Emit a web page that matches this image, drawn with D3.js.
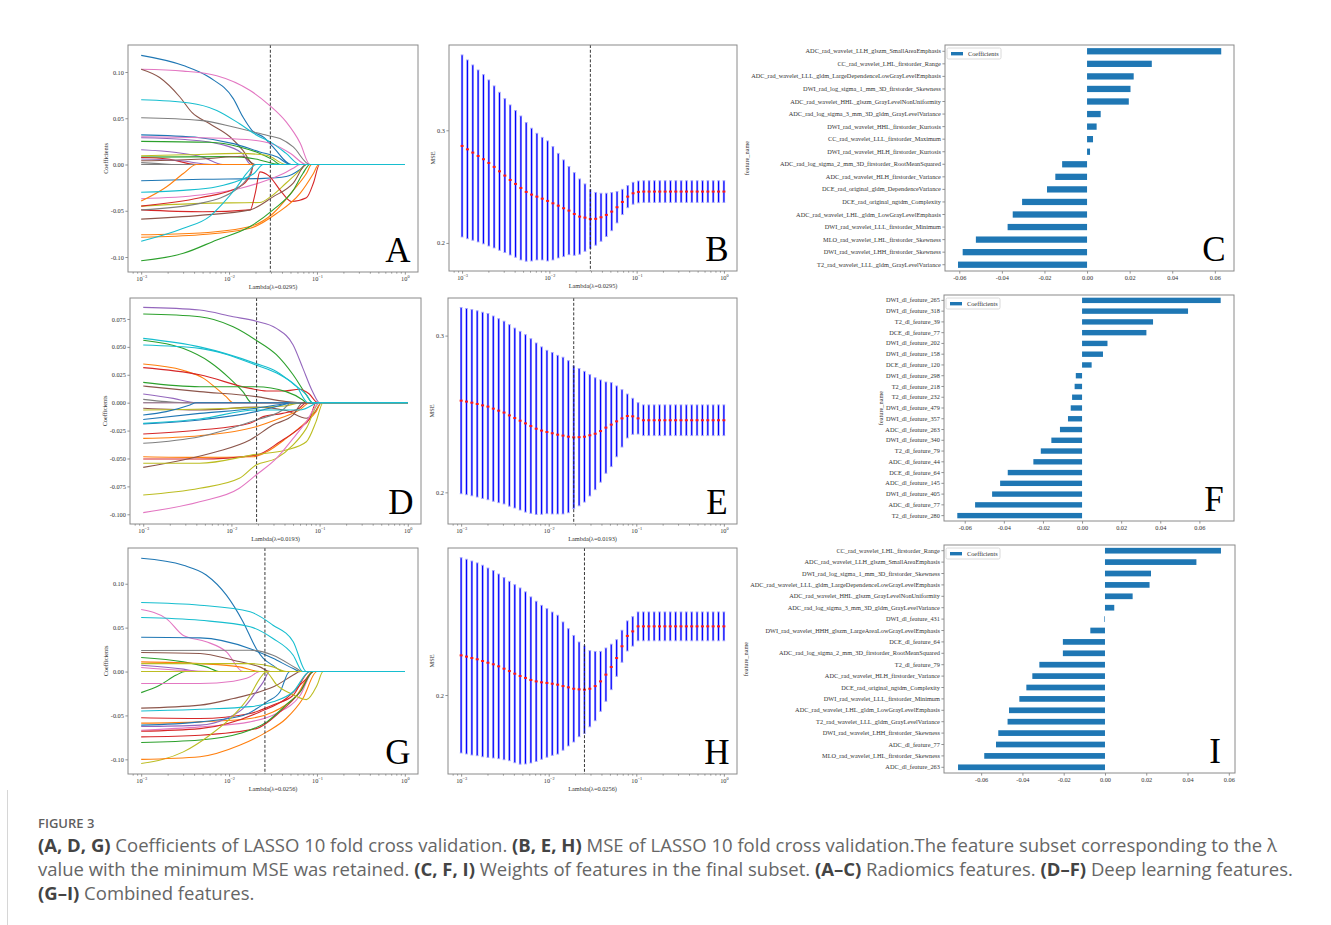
<!DOCTYPE html>
<html>
<head>
<meta charset="utf-8">
<title>LASSO 10 fold cross validation</title>
<script src="https://cdn.jsdelivr.net/npm/d3@7"></script>
<style>
  body { margin: 0; background: #fff; }
  svg { display: block; }
</style>
</head>
<body>
<svg id="fig" width="1331" height="925"></svg>
<script>
// ---------- data ----------
// lambda grid used by the cross validation (50 values, 1e-3 .. 1e0)
const lambdaGrid = d3.range(50).map(i => Math.pow(10, -3 + 3 * i / 49));
const lambdaA = 0.0295, lambdaD = 0.0193, lambdaG = 0.0256;

// MSE mean and half error bar per lambda
const mseMeanB = [0.2861,0.2831,0.2802,0.2772,0.2743,0.2710,0.2675,0.2636,0.2598,0.2559,0.2524,0.2488,0.2453,0.2429,0.2411,0.2393,0.2373,0.2352,0.2331,0.2308,0.2287,0.2257,0.2234,0.2225,0.2212,0.2214,0.2228,0.2249,0.2278,0.2317,0.2364,0.2411,0.2441,0.2453,0.2456,0.2456,0.2456,0.2456,0.2456,0.2456,0.2456,0.2456,0.2456,0.2456,0.2456,0.2456,0.2456,0.2456,0.2456,0.2456];
const mseErrB  = [0.0808,0.0793,0.0778,0.0763,0.0751,0.0737,0.0719,0.0701,0.0683,0.0666,0.0651,0.0639,0.0615,0.0589,0.0562,0.0544,0.0533,0.0503,0.0464,0.0429,0.0391,0.0367,0.0334,0.0299,0.0260,0.0234,0.0213,0.0192,0.0169,0.0139,0.0112,0.0098,0.0097,0.0097,0.0096,0.0096,0.0096,0.0096,0.0096,0.0096,0.0096,0.0096,0.0096,0.0096,0.0096,0.0096,0.0096,0.0096,0.0096,0.0096];
const mseMeanE = [0.2585,0.2579,0.2572,0.2564,0.2555,0.2547,0.2534,0.2521,0.2509,0.2491,0.2474,0.2457,0.2440,0.2423,0.2406,0.2394,0.2385,0.2377,0.2368,0.2362,0.2355,0.2351,0.2352,0.2355,0.2364,0.2374,0.2391,0.2413,0.2432,0.2453,0.2472,0.2487,0.2485,0.2472,0.2460,0.2460,0.2460,0.2460,0.2460,0.2460,0.2460,0.2460,0.2460,0.2460,0.2460,0.2460,0.2460,0.2460,0.2460,0.2460];
const mseErrE  = [0.0594,0.0594,0.0594,0.0594,0.0594,0.0594,0.0591,0.0587,0.0583,0.0579,0.0574,0.0570,0.0566,0.0557,0.0547,0.0534,0.0521,0.0515,0.0506,0.0500,0.0485,0.0455,0.0438,0.0417,0.0387,0.0357,0.0326,0.0291,0.0268,0.0226,0.0183,0.0140,0.0115,0.0100,0.0098,0.0098,0.0098,0.0098,0.0098,0.0098,0.0098,0.0098,0.0098,0.0098,0.0098,0.0098,0.0098,0.0098,0.0098,0.0098];
const mseMeanH = [0.2253,0.2245,0.2236,0.2228,0.2217,0.2206,0.2196,0.2183,0.2168,0.2153,0.2136,0.2121,0.2109,0.2096,0.2087,0.2081,0.2077,0.2072,0.2066,0.2057,0.2049,0.2040,0.2036,0.2034,0.2040,0.2057,0.2087,0.2130,0.2179,0.2236,0.2311,0.2377,0.2406,0.2438,0.2438,0.2438,0.2438,0.2438,0.2438,0.2438,0.2438,0.2438,0.2438,0.2438,0.2438,0.2438,0.2438,0.2438,0.2438,0.2438];
const mseErrH  = [0.0623,0.0621,0.0619,0.0615,0.0611,0.0604,0.0598,0.0589,0.0581,0.0572,0.0568,0.0562,0.0549,0.0530,0.0511,0.0491,0.0474,0.0457,0.0443,0.0409,0.0374,0.0340,0.0302,0.0279,0.0243,0.0221,0.0191,0.0170,0.0145,0.0117,0.0102,0.0096,0.0094,0.0092,0.0092,0.0092,0.0092,0.0092,0.0092,0.0092,0.0092,0.0092,0.0092,0.0092,0.0092,0.0092,0.0092,0.0092,0.0092,0.0092];

// coefficient paths: [colour, [[log10 lambda, coefficient], ...]]
const pathsA = [
  ["blue",   [[-3,0.118],[-2.52,0.107],[-2.22,0.094],[-1.95,0.071],[-1.84,0.051],[-1.74,0.037],[-1.6,0.029],[-1.5,0.019],[-1.29,0]]],
  ["pink",   [[-3,0.103],[-2.52,0.101],[-2.14,0.096],[-1.76,0.080],[-1.54,0.064],[-1.35,0.046],[-1.19,0.023],[-1.08,0]]],
  ["brown",  [[-3,0.103],[-2.79,0.094],[-2.56,0.073],[-2.42,0.056],[-2.22,0.044],[-1.99,0.030],[-1.84,0.015],[-1.72,0]]],
  ["gray",   [[-3,0.0506],[-2.33,0.0477],[-1.95,0.0406],[-1.57,0.0316],[-1.42,0.028],[-1.27,0.019],[-1.08,0]]],
  ["blue",   [[-3,0.032],[-2.33,0.029],[-1.95,0.0226],[-1.65,0.0136],[-1.45,0.008],[-1.3,0]]],
  ["pink",   [[-3,0.030],[-2.3,0.029],[-1.8,0.027],[-1.5,0.022],[-1.3,0.012],[-1.12,0]]],
  ["purple", [[-3,0.029],[-2.5,0.027],[-2.1,0.022],[-1.85,0.012],[-1.75,0]]],
  ["green",  [[-3,0.025],[-2.22,0.024],[-1.88,0.019],[-1.65,0.012],[-1.5,0.005],[-1.42,0]]],
  ["purple", [[-3,0.016],[-2.6,0.013],[-2.3,0.008],[-2.07,0]]],
  ["olive",  [[-3,0.0095],[-2.5,0.0105],[-1.88,0.012],[-1.57,0.010],[-1.35,0]]],
  ["green",  [[-3,0.008],[-2.0,0.0085],[-1.7,0.006],[-1.42,0]]],
  ["red",    [[-3,0.0075],[-2.7,0.006],[-2.37,0]]],
  ["purple", [[-3,0.006],[-2.55,0.004],[-2.2,0]]],
  ["brown",  [[-3,0.004],[-2.3,0.006],[-1.85,0.009],[-1.7,0]]],
  ["gray",   [[-3,0.002],[-2.8,0.001],[-2.6,0]]],
  ["gray",   [[-3,0]]],
  ["blue",   [[-3,-0.0176],[-2.3,-0.016],[-1.6,-0.015],[-1.35,-0.013],[-1.2,-0.006],[-1.12,0]]],
  ["pink",   [[-3,-0.037],[-2.33,-0.033],[-1.88,-0.026],[-1.57,-0.017],[-1.38,-0.0097],[-1.27,-0.004],[-1.19,0]]],
  ["orange", [[-3,-0.0395],[-2.71,-0.024],[-2.52,-0.0097],[-2.37,0]]],
  ["olive",  [[-3,-0.045],[-2.33,-0.042],[-1.65,-0.041],[-1.53,-0.035],[-1.35,-0.020],[-1.19,-0.006],[-1.12,0]]],
  ["red",    [[-3,-0.045],[-2.33,-0.036],[-1.88,-0.024],[-1.75,-0.0097],[-1.72,0]]],
  ["red",    [[-3,-0.049],[-2.3,-0.051],[-1.76,-0.049],[-1.7,-0.030],[-1.65,-0.008],[-1.55,-0.012],[-1.4,-0.030],[-1.29,-0.040],[-1.12,-0.036],[-1.04,-0.020],[-0.97,0]]],
  ["gray",   [[-3,-0.049],[-2.33,-0.042],[-1.88,-0.024],[-1.76,-0.0097],[-1.72,0]]],
  ["brown",  [[-3,-0.059],[-2.33,-0.055],[-1.76,-0.049],[-1.5,-0.035],[-1.27,-0.020],[-1.12,0]]],
  ["orange", [[-3,-0.076],[-2.33,-0.074],[-1.76,-0.067],[-1.5,-0.053],[-1.27,-0.028],[-1.12,-0.0097],[-1.06,0]]],
  ["orange", [[-3,-0.0786],[-2.33,-0.076],[-1.76,-0.069],[-1.46,-0.053],[-1.19,-0.031],[-1.04,-0.0097],[-0.98,0]]],
  ["green",  [[-3,-0.104],[-2.52,-0.096],[-2.14,-0.0815],[-1.76,-0.067],[-1.5,-0.049],[-1.27,-0.028],[-1.16,-0.0097],[-1.08,0]]],
  ["cyan",   [[-3,-0.030],[-2.52,-0.028],[-2.14,-0.024],[-1.88,-0.017],[-1.72,-0.010],[-1.61,0]]],
  ["cyan",   [[-3,-0.083],[-2.52,-0.069],[-2.22,-0.056],[-2.07,-0.042],[-1.91,-0.024],[-1.8,-0.0097],[-1.69,0]]],
  ["cyan",   [[-3,0.070],[-2.45,0.0665],[-2.14,0.0585],[-1.88,0.044],[-1.69,0.032],[-1.5,0.0226],[-1.35,0.012],[-1.19,0]]]
];
const pathsD = [
  ["purple", [[-3,0.0854],[-2.36,0.083],[-1.98,0.077],[-1.72,0.073],[-1.49,0.0666],[-1.3,0.0517],[-1.19,0.031],[-1.08,0.010],[-1.0,0]]],
  ["green",  [[-3,0.0794],[-2.36,0.077],[-1.98,0.068],[-1.72,0.056],[-1.49,0.043],[-1.3,0.025],[-1.15,0.007],[-1.08,0]]],
  ["green",  [[-3,0.056],[-2.55,0.0487],[-2.25,0.0367],[-2.02,0.0218],[-1.87,0.0099],[-1.77,0]]],
  ["orange", [[-3,0.0346],[-2.55,0.029],[-2.32,0.022],[-2.17,0.0128],[-2.06,0.0054],[-1.98,0]]],
  ["red",    [[-3,0.0314],[-2.36,0.025],[-1.79,0.0128],[-1.6,0.0105],[-1.4,0.0105],[-1.23,0.012],[-1.12,0.008],[-1.02,0]]],
  ["green",  [[-3,0.0182],[-2.36,0.0143],[-1.72,0.0143],[-1.38,0.0099],[-1.19,0.0024],[-1.15,0]]],
  ["brown",  [[-3,0.0149],[-2.36,0.0099],[-1.72,0.0054],[-1.38,0.001],[-1.23,0]]],
  ["purple", [[-3,0.0078],[-2.66,0.0039],[-2.4,0]]],
  ["gray",   [[-3,0.003],[-2.74,0.001],[-2.5,0]]],
  ["pink",   [[-3,0]]],
  ["gray",   [[-3,0]]],
  ["brown",  [[-3,-0.005],[-2.36,-0.0066],[-1.72,-0.004],[-1.38,-0.007],[-1.15,-0.014],[-1.05,-0.008],[-0.98,0]]],
  ["olive",  [[-3,-0.0066],[-2.0,-0.005],[-1.4,-0.003],[-1.2,0]]],
  ["blue",   [[-3,-0.011],[-2.74,-0.008],[-2.47,-0.002],[-2.4,0]]],
  ["blue",   [[-3,-0.015],[-2.36,-0.0096],[-1.72,-0.005],[-1.4,-0.001],[-1.3,0]]],
  ["blue",   [[-3,-0.019],[-2.36,-0.0155],[-1.72,-0.008],[-1.42,-0.002],[-1.3,0]]],
  ["red",    [[-3,-0.028],[-2.36,-0.0245],[-1.79,-0.0185],[-1.64,-0.0125],[-1.42,-0.0096],[-1.23,-0.005],[-1.15,0]]],
  ["orange", [[-3,-0.032],[-2.36,-0.0296],[-1.72,-0.0215],[-1.45,-0.014],[-1.23,-0.0066],[-1.11,0]]],
  ["gray",   [[-3,-0.0364],[-2.36,-0.0305],[-1.72,-0.0155],[-1.42,-0.0066],[-1.32,0]]],
  ["orange", [[-3,-0.0484],[-2.36,-0.049],[-1.75,-0.0484],[-1.6,-0.044],[-1.38,-0.032],[-1.15,-0.017],[-1.04,-0.008],[-0.98,0]]],
  ["red",    [[-3,-0.0505],[-2.36,-0.0505],[-1.72,-0.047],[-1.45,-0.035],[-1.23,-0.023],[-1.11,-0.014],[-1.04,0]]],
  ["brown",  [[-3,-0.058],[-2.55,-0.0514],[-2.17,-0.044],[-1.79,-0.0334],[-1.53,-0.020],[-1.3,-0.011],[-1.19,0]]],
  ["olive",  [[-3,-0.0543],[-2.36,-0.0543],[-1.72,-0.0463],[-1.38,-0.0424],[-1.15,-0.035],[-1.04,-0.017],[-0.96,0]]],
  ["olive",  [[-3,-0.0827],[-2.36,-0.0767],[-1.91,-0.0678],[-1.72,-0.0558],[-1.49,-0.0499],[-1.3,-0.0379],[-1.15,-0.023],[-1.0,0]]],
  ["pink",   [[-3,-0.0985],[-2.36,-0.0887],[-1.91,-0.0767],[-1.72,-0.0648],[-1.49,-0.0499],[-1.3,-0.032],[-1.15,-0.017],[-1.0,0]]],
  ["cyan",   [[-3,-0.0185],[-2.36,-0.0146],[-1.72,-0.0066],[-1.23,-0.0066],[-1.08,-0.002],[-1.04,0]]],
  ["cyan",   [[-3,0.0576],[-2.36,0.050],[-1.72,0.035],[-1.49,0.028],[-1.3,0.017],[-1.15,0.007],[-1.08,0]]],
  ["cyan",   [[-3,0.0517],[-2.36,0.0487],[-1.72,0.0337],[-1.45,0.025],[-1.26,0.0143],[-1.13,0]]]
];
const pathsG = [
  ["blue",   [[-3,0.129],[-2.52,0.121],[-2.26,0.110],[-2.03,0.087],[-1.84,0.0565],[-1.69,0.026],[-1.61,0.015],[-1.5,0.007],[-1.38,0]]],
  ["pink",   [[-3,0.0706],[-2.71,0.060],[-2.52,0.041],[-2.26,0.034],[-2.03,0.0224],[-1.84,0]]],
  ["blue",   [[-3,0.039],[-2.33,0.0383],[-1.76,0.026],[-1.5,0.015],[-1.27,0.0034],[-1.19,0]]],
  ["gray",   [[-3,0.0239],[-1.76,0.0243],[-1.5,0.0186],[-1.23,0.0034],[-1.17,0]]],
  ["brown",  [[-3,0.0216],[-2.33,0.0205],[-1.95,0.0129],[-1.65,0.0053],[-1.53,0]]],
  ["green",  [[-3,0.016],[-2.52,0.011],[-2.26,0.0053],[-2.1,0]]],
  ["orange", [[-3,0.011],[-2.33,0.009],[-1.88,0.0053],[-1.65,0]]],
  ["olive",  [[-3,0.009],[-1.76,0.009],[-1.5,0.0053],[-1.35,0]]],
  ["purple", [[-3,0.0072],[-2.52,0.0027],[-2.33,0]]],
  ["pink",   [[-3,0.0046],[-2.14,0]]],
  ["olive",  [[-3,0]]],
  ["green",  [[-3,-0.024],[-2.79,-0.0156],[-2.6,-0.004],[-2.5,0]]],
  ["pink",   [[-3,-0.0137],[-2.33,-0.0137],[-1.95,-0.011],[-1.76,-0.006],[-1.65,0]]],
  ["brown",  [[-3,-0.0417],[-2.33,-0.0383],[-1.95,-0.0307],[-1.65,-0.023],[-1.46,-0.0156],[-1.27,-0.004],[-1.19,0]]],
  ["red",    [[-3,-0.0527],[-2.33,-0.0535],[-1.76,-0.0478],[-1.5,-0.038],[-1.27,-0.027],[-1.08,0]]],
  ["orange", [[-3,-0.0588],[-2.33,-0.0573],[-1.76,-0.0535],[-1.5,-0.046],[-1.23,-0.027],[-1.04,0]]],
  ["purple", [[-3,-0.0626],[-2.33,-0.061],[-2.03,-0.0535],[-1.84,-0.042],[-1.69,-0.023],[-1.61,-0.0118],[-1.54,0]]],
  ["blue",   [[-3,-0.061],[-2.33,-0.0573],[-1.84,-0.050],[-1.57,-0.0345],[-1.42,-0.023],[-1.31,0]]],
  ["pink",   [[-3,-0.0668],[-2.33,-0.063],[-1.76,-0.0573],[-1.46,-0.0478],[-1.19,-0.027],[-1.04,0]]],
  ["red",    [[-3,-0.068],[-2.33,-0.065],[-1.65,-0.046],[-1.35,-0.0307],[-1.12,-0.008],[-1.04,0]]],
  ["red",    [[-3,-0.0744],[-2.33,-0.0725],[-1.69,-0.065],[-1.42,-0.046],[-1.19,-0.023],[-1.04,0]]],
  ["green",  [[-3,-0.0808],[-2.33,-0.078],[-1.88,-0.0706],[-1.57,-0.0573],[-1.35,-0.038],[-1.19,-0.023],[-1.04,0]]],
  ["olive",  [[-3,-0.1047],[-2.52,-0.0915],[-2.22,-0.0725],[-1.95,-0.050],[-1.76,-0.027],[-1.65,-0.008],[-1.57,0]]],
  ["orange", [[-3,-0.100],[-2.33,-0.097],[-1.88,-0.084],[-1.57,-0.0687],[-1.35,-0.0535],[-1.16,-0.0307],[-1.0,0]]],
  ["olive",  [[-3,0],[-1.59,0],[-1.45,-0.016],[-1.3,-0.025],[-1.12,-0.032],[-1.0,-0.016],[-0.93,0]]],
  ["cyan",   [[-3,-0.045],[-2.33,-0.0429],[-1.76,-0.040],[-1.5,-0.0345],[-1.27,-0.023],[-1.08,0]]],
  ["cyan",   [[-3,0.0615],[-2.33,0.0584],[-1.76,0.051],[-1.5,0.0376],[-1.27,0.0186],[-1.16,0]]],
  ["cyan",   [[-3,0.0786],[-2.33,0.0755],[-1.76,0.068],[-1.5,0.0528],[-1.27,0.034],[-1.12,0]]]
];

// final subsets (top to bottom as drawn)
const featuresC = ["ADC_rad_wavelet_LLH_glszm_SmallAreaEmphasis","CC_rad_wavelet_LHL_firstorder_Range","ADC_rad_wavelet_LLL_gldm_LargeDependenceLowGrayLevelEmphasis","DWI_rad_log_sigma_1_mm_3D_firstorder_Skewness","ADC_rad_wavelet_HHL_glszm_GrayLevelNonUniformity","ADC_rad_log_sigma_3_mm_3D_gldm_GrayLevelVariance","DWI_rad_wavelet_HHL_firstorder_Kurtosis","CC_rad_wavelet_LLL_firstorder_Maximum","DWI_rad_wavelet_HLH_firstorder_Kurtosis","ADC_rad_log_sigma_2_mm_3D_firstorder_RootMeanSquared","ADC_rad_wavelet_HLH_firstorder_Variance","DCE_rad_original_gldm_DependenceVariance","DCE_rad_original_ngtdm_Complexity","ADC_rad_wavelet_LHL_gldm_LowGrayLevelEmphasis","DWI_rad_wavelet_LLL_firstorder_Minimum","MLO_rad_wavelet_LHL_firstorder_Skewness","DWI_rad_wavelet_LHH_firstorder_Skewness","T2_rad_wavelet_LLL_gldm_GrayLevelVariance"];
const coefsC = [0.0630,0.0304,0.0219,0.0204,0.0196,0.0064,0.0045,0.0028,0.0014,-0.0117,-0.0149,-0.0188,-0.0305,-0.0349,-0.0373,-0.0522,-0.0584,-0.0606];
const featuresF = ["DWI_dl_feature_265","DWI_dl_feature_318","T2_dl_feature_39","DCE_dl_feature_77","DWI_dl_feature_202","DWI_dl_feature_158","DCE_dl_feature_120","DWI_dl_feature_298","T2_dl_feature_218","T2_dl_feature_232","DWI_dl_feature_479","DWI_dl_feature_357","ADC_dl_feature_263","DWI_dl_feature_340","T2_dl_feature_79","ADC_dl_feature_44","DCE_dl_feature_64","ADC_dl_feature_145","DWI_dl_feature_405","ADC_dl_feature_77","T2_dl_feature_280"];
const coefsF = [0.0709,0.0542,0.0363,0.0329,0.0130,0.0107,0.0049,-0.0032,-0.0038,-0.0051,-0.0058,-0.0072,-0.0113,-0.0157,-0.0211,-0.0249,-0.0380,-0.0419,-0.0460,-0.0547,-0.0638];
const featuresI = ["CC_rad_wavelet_LHL_firstorder_Range","ADC_rad_wavelet_LLH_glszm_SmallAreaEmphasis","DWI_rad_log_sigma_1_mm_3D_firstorder_Skewness","ADC_rad_wavelet_LLL_gldm_LargeDependenceLowGrayLevelEmphasis","ADC_rad_wavelet_HHL_glszm_GrayLevelNonUniformity","ADC_rad_log_sigma_3_mm_3D_gldm_GrayLevelVariance","DWI_dl_feature_431","DWI_rad_wavelet_HHH_glszm_LargeAreaLowGrayLevelEmphasis","DCE_dl_feature_64","ADC_rad_log_sigma_2_mm_3D_firstorder_RootMeanSquared","T2_dl_feature_79","ADC_rad_wavelet_HLH_firstorder_Variance","DCE_rad_original_ngtdm_Complexity","DWI_rad_wavelet_LLL_firstorder_Minimum","ADC_rad_wavelet_LHL_gldm_LowGrayLevelEmphasis","T2_rad_wavelet_LLL_gldm_GrayLevelVariance","DWI_rad_wavelet_LHH_firstorder_Skewness","ADC_dl_feature_77","MLO_rad_wavelet_LHL_firstorder_Skewness","ADC_dl_feature_263"];
const coefsI = [0.0562,0.0443,0.0223,0.0216,0.0134,0.0045,-0.0003,-0.0071,-0.0204,-0.0204,-0.0318,-0.0352,-0.0381,-0.0415,-0.0465,-0.0472,-0.0517,-0.0528,-0.0585,-0.0712];

// tick values and labels
const coefTicks = [-0.10, -0.05, 0, 0.05, 0.10];
const coefTickLabels = ["-0.10", "-0.05", "0.00", "0.05", "0.10"];
const coefTicksD = [-0.100, -0.075, -0.050, -0.025, 0, 0.025, 0.050, 0.075];
const coefTickLabelsD = ["-0.100", "-0.075", "-0.050", "-0.025", "0.000", "0.025", "0.050", "0.075"];
const mseTicks = [0.2, 0.3];
const mseTickLabels = ["0.2", "0.3"];
const barTicks = [-0.06, -0.04, -0.02, 0, 0.02, 0.04, 0.06];
const barTickLabels = ["-0.06", "-0.04", "-0.02", "0.00", "0.02", "0.04", "0.06"];
const lambdaMajor = [-3, -2, -1, 0];

// ---------- drawing ----------
const tab10 = { blue: "#1f77b4", orange: "#ff7f0e", green: "#2ca02c", red: "#d62728", purple: "#9467bd",
                brown: "#8c564b", pink: "#e377c2", gray: "#7f7f7f", olive: "#bcbd22", cyan: "#17becf" };
const SERIF = "'Liberation Serif', 'Times New Roman', serif";
const FS = 6.3;
const svg = d3.select("#fig");
svg.append("rect").attr("width", 1331).attr("height", 925).attr("fill", "#fff");

function styleAxis(a) {
  a.attr("font-size", FS).attr("font-family", SERIF);
  a.select(".domain").remove();
  a.selectAll(".tick line").attr("stroke", "#777").attr("stroke-width", 0.8);
  a.selectAll(".tick text").attr("fill", "#333");
}

function frame(g, b) {
  g.append("rect").attr("x", b.x0).attr("y", b.y0).attr("width", b.x1 - b.x0).attr("height", b.y1 - b.y0)
    .attr("fill", "none").attr("stroke", "#8a8a8a").attr("stroke-width", 1);
}

function letter(g, b, t) {
  g.append("text").attr("x", b.x1 - 20).attr("y", b.y1 - 10).attr("text-anchor", "middle")
    .attr("font-family", SERIF).attr("font-size", 35).attr("fill", "#000").text(t);
}

function yLabel(g, b, axisG, t) {
  // axis group is translated to b.x0, so its bbox is local to that
  const bb = axisG.node().getBBox();
  g.append("text").attr("transform", `translate(${b.x0 + bb.x - 2.5},${(b.y0 + b.y1) / 2}) rotate(-90)`)
    .attr("text-anchor", "middle").attr("font-family", SERIF).attr("font-size", FS).attr("fill", "#333").text(t);
}

function lambdaAxis(g, b) {
  const x = d3.scaleLog().domain([Math.pow(10, -3.15), Math.pow(10, 0.15)]).range([b.x0, b.x1]);
  const minor = [];
  for (let e = -4; e <= 0; e++) for (let m = 2; m <= 9; m++) {
    const v = m * Math.pow(10, e);
    if (v > x.domain()[0] && v < x.domain()[1]) minor.push(v);
  }
  g.append("g").attr("transform", `translate(0,${b.y1})`)
    .call(d3.axisBottom(x).tickValues(minor).tickSize(1.6).tickFormat(() => ""))
    .call(styleAxis);
  const ax = g.append("g").attr("transform", `translate(0,${b.y1})`)
    .call(d3.axisBottom(x).tickValues(lambdaMajor.map(e => Math.pow(10, e))).tickSize(2.6).tickPadding(2).tickFormat(() => ""))
    .call(styleAxis);
  ax.selectAll(".tick text").each(function (d) {
    const e = Math.round(Math.log10(d));
    const t = d3.select(this);
    t.append("tspan").text("10");
    t.append("tspan").attr("font-size", 4.3).attr("dy", "-0.75em").text(e < 0 ? "\u2212" + (-e) : String(e));
  });
  return x;
}

function pathPanel(b, yDomain, ticks, tickLabels, paths, lam, t) {
  const g = svg.append("g");
  const x = lambdaAxis(g, b);
  const y = d3.scaleLinear().domain(yDomain).range([b.y1, b.y0]);
  const line = d3.line().x(d => x(Math.pow(10, d[0]))).y(d => y(d[1])).curve(d3.curveMonotoneX);
  g.append("g").selectAll("path").data(paths).join("path")
    .attr("d", d => line(d[1].concat([[0, 0]])))
    .attr("fill", "none").attr("stroke", d => tab10[d[0]]).attr("stroke-width", 1.1);
  g.append("line").attr("x1", x(lam)).attr("x2", x(lam)).attr("y1", b.y0).attr("y2", b.y1)
    .attr("stroke", "#222").attr("stroke-width", 0.9).attr("stroke-dasharray", "3,1.8");
  const ay = g.append("g").attr("transform", `translate(${b.x0},0)`)
    .call(d3.axisLeft(y).tickValues(ticks).tickFormat((d, i) => tickLabels[i]).tickSize(2.6).tickPadding(1.5))
    .call(styleAxis);
  yLabel(g, b, ay, "Coefficients");
  g.append("text").attr("x", (b.x0 + b.x1) / 2).attr("y", b.y1 + 17).attr("text-anchor", "middle")
    .attr("font-family", SERIF).attr("font-size", FS).attr("fill", "#333").text(`Lambda(\u03bb=${lam})`);
  frame(g, b);
  letter(g, b, t);
}

function msePanel(b, yDomain, ticks, tickLabels, means, errs, lam, t) {
  const g = svg.append("g");
  const x = lambdaAxis(g, b);
  const y = d3.scaleLinear().domain(yDomain).range([b.y1, b.y0]);
  const pts = lambdaGrid.map((l, i) => ({ l, m: means[i], e: errs[i] }));
  const eb = g.append("g");
  eb.selectAll(".halo").data(pts).join("line")
    .attr("x1", d => x(d.l)).attr("x2", d => x(d.l)).attr("y1", d => y(d.m + d.e)).attr("y2", d => y(d.m - d.e))
    .attr("stroke", "#a6a6ff").attr("stroke-width", 2.3);
  eb.selectAll(".core").data(pts).join("line")
    .attr("x1", d => x(d.l)).attr("x2", d => x(d.l)).attr("y1", d => y(d.m + d.e)).attr("y2", d => y(d.m - d.e))
    .attr("stroke", "#0000ff").attr("stroke-width", 1.1);
  ["top", "bot"].forEach(k => {
    eb.selectAll(".cap-" + k).data(pts).join("line")
      .attr("x1", d => x(d.l) - 1.4).attr("x2", d => x(d.l) + 1.4)
      .attr("y1", d => y(k === "top" ? d.m + d.e : d.m - d.e)).attr("y2", d => y(k === "top" ? d.m + d.e : d.m - d.e))
      .attr("stroke", "#a6a6ff").attr("stroke-width", 0.9);
  });
  g.selectAll(".mean").data(pts).join("rect")
    .attr("x", d => x(d.l) - 1.5).attr("y", d => y(d.m) - 1).attr("width", 3).attr("height", 2)
    .attr("fill", "#ff1a1a");
  g.append("line").attr("x1", x(lam)).attr("x2", x(lam)).attr("y1", b.y0).attr("y2", b.y1)
    .attr("stroke", "#222").attr("stroke-width", 0.9).attr("stroke-dasharray", "3,1.8");
  const ay = g.append("g").attr("transform", `translate(${b.x0},0)`)
    .call(d3.axisLeft(y).tickValues(ticks).tickFormat((d, i) => tickLabels[i]).tickSize(2.6).tickPadding(1.5))
    .call(styleAxis);
  yLabel(g, b, ay, "MSE");
  g.append("text").attr("x", (b.x0 + b.x1) / 2).attr("y", b.y1 + 17).attr("text-anchor", "middle")
    .attr("font-family", SERIF).attr("font-size", FS).attr("fill", "#333").text(`Lambda(\u03bb=${lam})`);
  frame(g, b);
  letter(g, b, t);
}

function barPanel(b, xDomain, names, vals, t) {
  const g = svg.append("g");
  const x = d3.scaleLinear().domain(xDomain).range([b.x0, b.x1]);
  const y = d3.scaleBand().domain(names).range([b.y0, b.y1]).paddingInner(0.5).paddingOuter(0.25);
  g.selectAll(".bar").data(names).join("rect")
    .attr("x", (d, i) => Math.min(x(0), x(vals[i])))
    .attr("width", (d, i) => Math.max(0.6, Math.abs(x(vals[i]) - x(0))))
    .attr("y", d => y(d)).attr("height", y.bandwidth())
    .attr("fill", "#1f77b4");
  const ay = g.append("g").attr("transform", `translate(${b.x0},0)`)
    .call(d3.axisLeft(y).tickSize(2.6).tickPadding(1.5))
    .call(styleAxis);
  g.append("g").attr("transform", `translate(0,${b.y1})`)
    .call(d3.axisBottom(x).tickValues(barTicks).tickFormat((d, i) => barTickLabels[i]).tickSize(2.6).tickPadding(2))
    .call(styleAxis);
  yLabel(g, b, ay, "feature_name");
  const lg = g.append("g").attr("transform", `translate(${b.x0 + 2},${b.y0 + 3})`);
  lg.append("rect").attr("width", 54).attr("height", 11).attr("rx", 1.5)
    .attr("fill", "#fff").attr("stroke", "#d0d0d0").attr("stroke-width", 0.8);
  lg.append("rect").attr("x", 4).attr("y", 4).attr("width", 12).attr("height", 3.4).attr("fill", "#1f77b4");
  lg.append("text").attr("x", 21).attr("y", 7.6).attr("font-family", SERIF).attr("font-size", FS)
    .attr("fill", "#333").text("Coefficients");
  frame(g, b);
  letter(g, b, t);
}

pathPanel({ x0: 128, x1: 418, y0: 45, y1: 272 }, [-0.1162, 0.1292], coefTicks, coefTickLabels, pathsA, lambdaA, "A");
msePanel({ x0: 449, x1: 737, y0: 45, y1: 271 }, [0.1751, 0.3757], mseTicks, mseTickLabels, mseMeanB, mseErrB, lambdaA, "B");
barPanel({ x0: 945, x1: 1234, y0: 45, y1: 271 }, [-0.0667, 0.0690], featuresC, coefsC, "C");

pathPanel({ x0: 130, x1: 421, y0: 298, y1: 524 }, [-0.1087, 0.0938], coefTicksD, coefTickLabelsD, pathsD, lambdaD, "D");
msePanel({ x0: 448, x1: 737, y0: 298, y1: 524 }, [0.1798, 0.3240], mseTicks, mseTickLabels, mseMeanE, mseErrE, lambdaD, "E");
barPanel({ x0: 944, x1: 1234, y0: 295, y1: 521 }, [-0.0706, 0.0777], featuresF, coefsF, "F");

pathPanel({ x0: 128, x1: 418, y0: 548, y1: 774 }, [-0.1167, 0.1407], coefTicks, coefTickLabels, pathsG, lambdaG, "G");
msePanel({ x0: 448, x1: 737, y0: 548, y1: 774 }, [0.1496, 0.2938], [0.2], ["0.2"], mseMeanH, mseErrH, lambdaG, "H");
barPanel({ x0: 944, x1: 1235, y0: 545, y1: 773 }, [-0.078, 0.063], featuresI, coefsI, "I");

// ---------- caption ----------
const SANS = "'Open Sans', 'Noto Sans', sans-serif";
svg.append("line").attr("x1", 7.5).attr("x2", 7.5).attr("y1", 790).attr("y2", 925)
  .attr("stroke", "#d6d6d6").attr("stroke-width", 1);
svg.append("text").attr("x", 38).attr("y", 828).attr("font-family", SANS).attr("font-size", 13)
  .attr("font-weight", 600).attr("fill", "#5f5f5f").text("FIGURE 3");
const captionLines = [
  [["(A, D, G)", 1], [" Coefficients of LASSO 10 fold cross validation. ", 0], ["(B, E, H)", 1], [" MSE of LASSO 10 fold cross validation.The feature subset corresponding to the \u03bb", 0]],
  [["value with the minimum MSE was retained. ", 0], ["(C, F, I)", 1], [" Weights of features in the final subset. ", 0], ["(A\u2013C)", 1], [" Radiomics features. ", 0], ["(D\u2013F)", 1], [" Deep learning features.", 0]],
  [["(G\u2013I)", 1], [" Combined features.", 0]]
];
const capTexts = captionLines.map((runs, li) => {
  const t = svg.append("text").attr("x", 38).attr("y", 852 + li * 24)
    .attr("font-family", SANS).attr("font-size", 16).attr("xml:space", "preserve");
  runs.forEach(r => t.append("tspan").attr("font-weight", r[1] ? 700 : 400).attr("fill", r[1] ? "#444" : "#666").text(r[0]));
  return t;
});
const w0 = capTexts[0].node().getComputedTextLength();
const capSize = 16 * 1240 / w0;
capTexts.forEach(t => t.attr("font-size", capSize));
</script>
</body>
</html>
